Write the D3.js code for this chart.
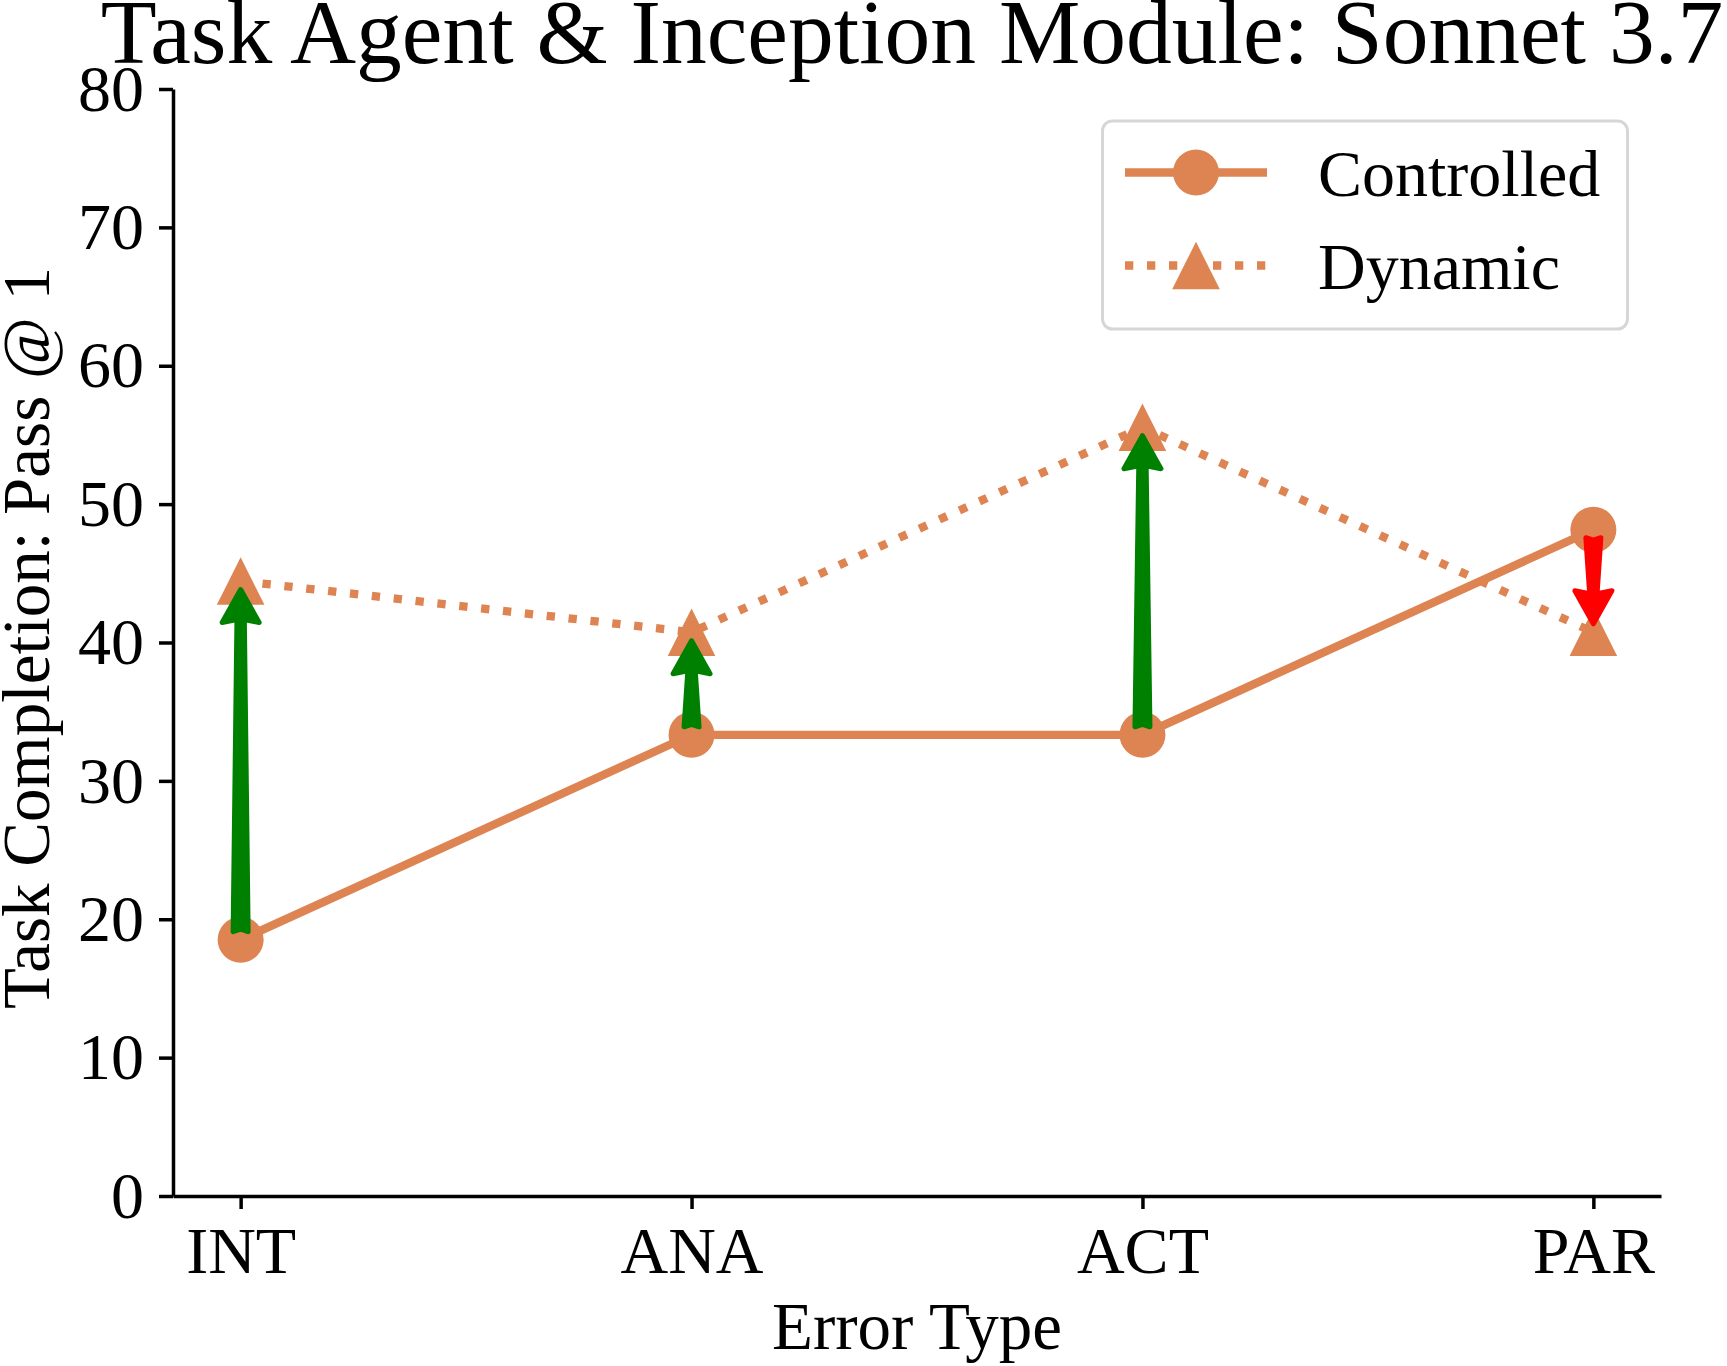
<!DOCTYPE html>
<html lang="en">
<head>
    <meta charset="UTF-8">
    <title>Task Agent & Inception Module: Sonnet 3.7</title>
    <script src="https://cdnjs.cloudflare.com/ajax/libs/d3/7.8.5/d3.min.js"></script>
    <style>
        body {
            margin: 0;
            padding: 0;
            background-color: #ffffff;
        }
        svg text {
            font-family: "Liberation Serif", "Times New Roman", serif;
            fill: #000000;
        }
    </style>
</head>
<body>
    <div id="chart"></div>

    <script>
        // data
        const categories = ["INT", "ANA", "ACT", "PAR"];
        const controlled = [18.52, 33.33, 33.33, 48.15];
        const dynamic = [44.44, 40.74, 55.56, 40.74];
        const yTicks = [0, 10, 20, 30, 40, 50, 60, 70, 80];
        const seriesNames = ["Controlled", "Dynamic"];

        const width = 1727;
        const height = 1366;
        const orange = "#dd8452";

        const svg = d3.select("#chart")
            .append("svg")
            .attr("width", width)
            .attr("height", height);

        const x = d3.scalePoint()
            .domain(categories)
            .range([173, 1661])
            .padding(0.15);

        const y = d3.scaleLinear()
            .domain([0, 80])
            .range([1196, 89]);

        // axes
        const yAxis = svg.append("g")
            .attr("transform", "translate(173,0)")
            .call(d3.axisLeft(y).tickValues(yTicks).tickSize(14).tickSizeOuter(0).tickPadding(15));

        const xAxis = svg.append("g")
            .attr("transform", "translate(0,1196)")
            .call(d3.axisBottom(x).tickSize(13).tickSizeOuter(0).tickPadding(17));

        [yAxis, xAxis].forEach(a => {
            a.select(".domain").attr("stroke", "#000").attr("stroke-width", 3.5);
            a.selectAll(".tick line").attr("stroke", "#000").attr("stroke-width", 3.5);
            a.selectAll(".tick text")
                .style("font-family", '"Liberation Serif", serif')
                .style("font-size", "66px")
                .attr("fill", "#000");
        });

        // lines and markers
        const line = d3.line()
            .x((d, i) => x(categories[i]))
            .y(d => y(d));

        svg.append("path")
            .datum(controlled)
            .attr("d", line)
            .attr("fill", "none")
            .attr("stroke", orange)
            .attr("stroke-width", 8.3);

        svg.append("path")
            .datum(dynamic)
            .attr("d", line)
            .attr("fill", "none")
            .attr("stroke", orange)
            .attr("stroke-width", 8.3)
            .attr("stroke-dasharray", "8.3,13.7");

        svg.append("g")
            .selectAll("circle")
            .data(controlled)
            .enter().append("circle")
            .attr("cx", (d, i) => x(categories[i]))
            .attr("cy", d => y(d))
            .attr("r", 23)
            .attr("fill", orange);

        const tri = h => `M0,${-h}L${-h},${h}L${h},${h}Z`;

        svg.append("g")
            .selectAll("path")
            .data(dynamic)
            .enter().append("path")
            .attr("transform", (d, i) => `translate(${x(categories[i])},${y(d)})`)
            .attr("d", tri(23.8))
            .attr("fill", orange);

        // change arrows
        const shrink = 5.5;
        function arrowPath(px, y0, y1) {
            const dir = Math.sign(y1 - y0);
            const tipY = y1 - dir * shrink;
            const tailY = y0 + dir * shrink;
            const L = Math.abs(tipY - tailY);
            const pts = [
                [0, 3], [18.5, 36], [3.7, 33], [7.5, L - 2.5],
                [0, L - 5], [-7.5, L - 2.5], [-3.7, 33], [-18.5, 36]
            ];
            return "M" + pts.map(p => `${px + p[0]},${tipY - dir * p[1]}`).join("L") + "Z";
        }

        svg.append("g")
            .selectAll("path")
            .data(categories)
            .enter().append("path")
            .attr("d", (c, i) => arrowPath(x(c), y(controlled[i]), y(dynamic[i])))
            .attr("fill", (c, i) => dynamic[i] >= controlled[i] ? "green" : "red")
            .attr("stroke", (c, i) => dynamic[i] >= controlled[i] ? "green" : "red")
            .attr("stroke-width", 5)
            .attr("stroke-linejoin", "round");

        // title and labels
        svg.append("text")
            .attr("x", 912)
            .attr("y", 63)
            .attr("text-anchor", "middle")
            .style("font-size", "91.5px")
            .text("Task Agent & Inception Module: Sonnet 3.7");

        svg.append("text")
            .attr("x", 917)
            .attr("y", 1349)
            .attr("text-anchor", "middle")
            .style("font-size", "67px")
            .text("Error Type");

        svg.append("text")
            .attr("transform", "translate(49,638) rotate(-90)")
            .attr("text-anchor", "middle")
            .style("font-size", "67px")
            .text("Task Completion: Pass @ 1");

        // legend
        const legend = svg.append("g");
        legend.append("rect")
            .attr("x", 1102.5)
            .attr("y", 121)
            .attr("width", 525)
            .attr("height", 208)
            .attr("rx", 10)
            .attr("fill", "#ffffff")
            .attr("stroke", "#d6d6d6")
            .attr("stroke-width", 3);

        const rowY = [172.5, 265.5];
        legend.append("line")
            .attr("x1", 1125).attr("x2", 1267)
            .attr("y1", rowY[0]).attr("y2", rowY[0])
            .attr("stroke", orange).attr("stroke-width", 8.3);
        legend.append("circle")
            .attr("cx", 1196).attr("cy", rowY[0]).attr("r", 23)
            .attr("fill", orange);
        legend.append("line")
            .attr("x1", 1125).attr("x2", 1267)
            .attr("y1", rowY[1]).attr("y2", rowY[1])
            .attr("stroke", orange).attr("stroke-width", 8.3)
            .attr("stroke-dasharray", "8.3,13.7");
        legend.append("path")
            .attr("transform", `translate(1196,${rowY[1]})`)
            .attr("d", tri(23.8))
            .attr("fill", orange);

        legend.selectAll(".label")
            .data(seriesNames)
            .enter().append("text")
            .attr("class", "label")
            .attr("x", 1318)
            .attr("y", (d, i) => rowY[i] + 23)
            .style("font-size", "66px")
            .text(d => d);
    </script>
</body>
</html>
